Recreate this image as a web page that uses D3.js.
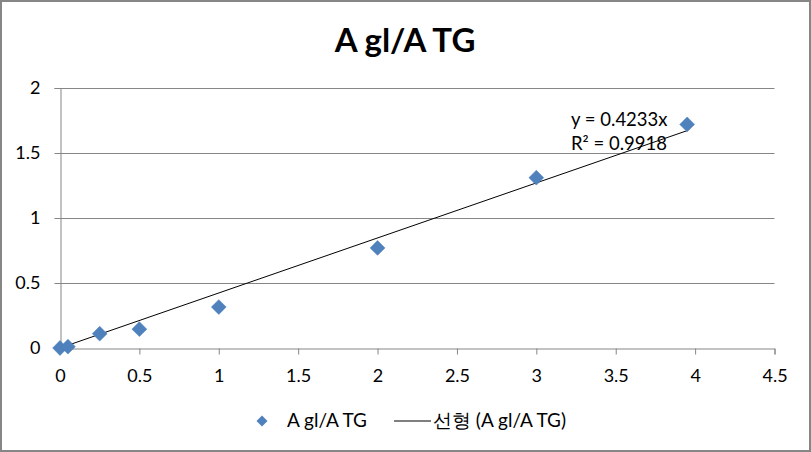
<!DOCTYPE html>
<html><head><meta charset="utf-8">
<script src="https://cdn.jsdelivr.net/npm/d3@7"></script>
<style>body{margin:0;background:#fff}svg{display:block}</style>
</head><body>
<script>
const xValues = [0, 0.05, 0.25, 0.5, 1, 2, 3, 3.95];
const yValues = [0, 0.01, 0.11, 0.145, 0.315, 0.77, 1.31, 1.72];
const xTicks = [0, 0.5, 1, 1.5, 2, 2.5, 3, 3.5, 4, 4.5];
const yTicks = [0, 0.5, 1, 1.5, 2];
const slope = 0.4233;
const title = "A gl/A TG";
const seriesName = "A gl/A TG";
const trendName = "선형 (A gl/A TG)";
const eqLines = ["y = 0.4233x", "R² = 0.9918"];

const W = 811, H = 452;
const font = "Lato, 'Noto Sans', sans-serif";
const svg = d3.select("body").append("svg").attr("width", W).attr("height", H);
svg.append("rect").attr("x",1).attr("y",1).attr("width",W-2).attr("height",H-2)
  .attr("fill","#fff").attr("stroke","#868686").attr("stroke-width",2);

const x = d3.scaleLinear().domain([0,4.5]).range([60,774.5]);
const y = d3.scaleLinear().domain([0,2]).range([348,88]);

// gridlines
svg.append("g").selectAll("line").data(yTicks.filter(d=>d>0)).join("line")
  .attr("x1",x(0)).attr("x2",x(4.5)).attr("y1",d=>y(d)+0.5).attr("y2",d=>y(d)+0.5)
  .attr("stroke","#868686").attr("stroke-width",1);

const xAxis = svg.append("g").attr("transform",`translate(0,${y(0)+0.5})`)
  .call(d3.axisBottom(x).tickValues(xTicks).tickSize(6).tickPadding(14.5).tickFormat(d3.format("")));
const yAxis = svg.append("g").attr("transform",`translate(${x(0)+0.5},0)`)
  .call(d3.axisLeft(y).tickValues(yTicks).tickSize(6).tickPadding(10).tickFormat(d3.format("")));
[xAxis,yAxis].forEach(a=>{
  a.select(".domain").attr("stroke","#868686");
  a.selectAll(".tick line").attr("stroke","#868686");
  a.selectAll("text").attr("font-family",font).attr("font-size",18).attr("fill","#000");
});
yAxis.selectAll("text").attr("dx",-4);

// trendline
svg.append("line").attr("x1",x(0)).attr("y1",y(0)).attr("x2",x(d3.max(xValues))).attr("y2",y(slope*d3.max(xValues)))
  .attr("stroke","#000").attr("stroke-width",1);

// points
const diamond = d3.symbol().type(d3.symbolSquare).size(110);
svg.append("g").selectAll("path").data(xValues.map((v,i)=>[v,yValues[i]])).join("path")
  .attr("d",diamond).attr("transform",d=>`translate(${x(d[0])},${y(d[1])}) rotate(45)`)
  .attr("fill","#4F81BD").attr("stroke","#4A7EBB").attr("stroke-width",0.5);

// equation
svg.append("g").selectAll("text").data(eqLines).join("text")
  .attr("x",571).attr("y",(d,i)=>126+i*24).attr("font-family",font).attr("font-size",18.5).attr("fill","#000").text(d=>d);

// title
svg.append("text").attr("x",405).attr("y",52).attr("text-anchor","middle")
  .attr("font-family",font).attr("font-weight","bold").attr("font-size",33).text(title);

// legend
svg.append("path").attr("d",d3.symbol().type(d3.symbolSquare).size(60))
  .attr("transform","translate(262,421) rotate(45)").attr("fill","#4F81BD");
svg.append("text").attr("x",287).attr("y",427).attr("font-family",font).attr("font-size",19).text(seriesName);
svg.append("line").attr("x1",394).attr("x2",431).attr("y1",421).attr("y2",421).attr("stroke","#000");
svg.append("text").attr("x",433).attr("y",427).attr("font-family",font).attr("font-size",19).text(trendName);
</script>
</body></html>
